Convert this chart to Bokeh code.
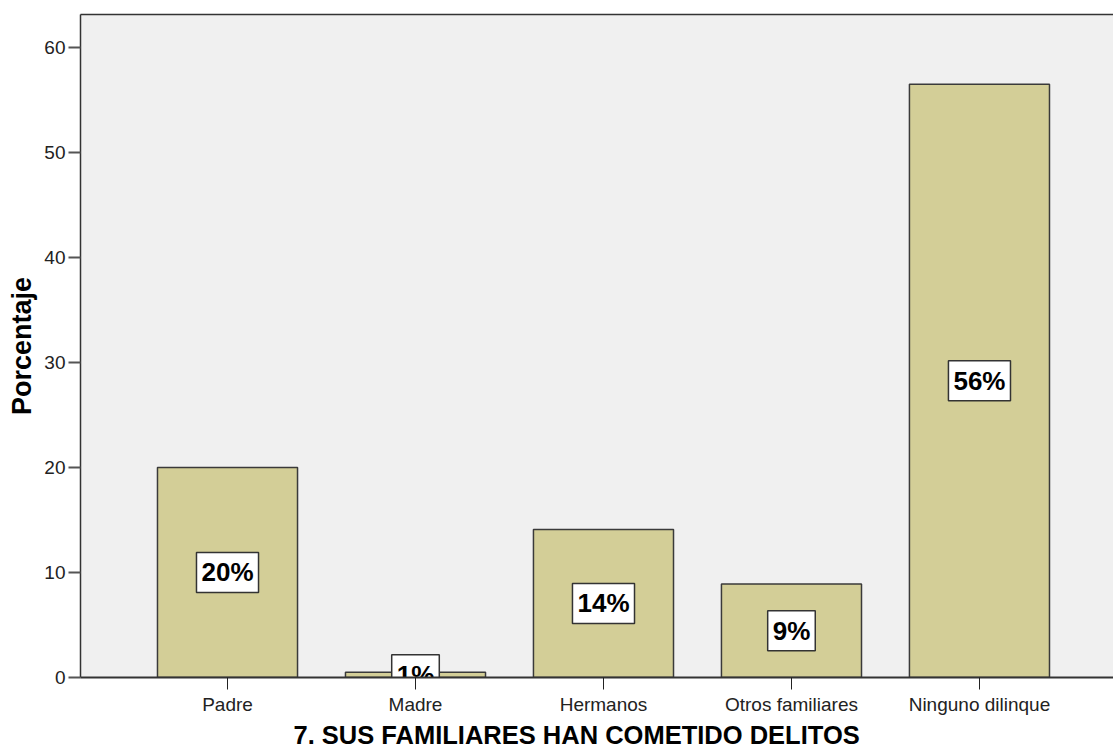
from bokeh.plotting import figure
from bokeh.models import ColumnDataSource, FixedTicker, Range1d, LinearAxis, Title
from bokeh.core.properties import value
from bokeh.embed import file_html
from bokeh.resources import INLINE

categories = ["Padre", "Madre", "Hermanos", "Otros familiares", "Ninguno dilinque"]
percentages = [20.0, 0.5, 14.1, 8.9, 56.5]
labels = ["20%", "1%", "14%", "9%", "56%"]
y_ticks = [0, 10, 20, 30, 40, 50, 60]
x_title = "7. SUS FAMILIARES HAN COMETIDO DELITOS"

xs = list(range(1, len(categories) + 1))
src = ColumnDataSource(dict(
    x=xs, top=percentages, mid=[v / 2 for v in percentages], label=labels,
))

FONT = "Liberation Sans"

p = figure(width=1113, height=751, output_backend="svg", toolbar_location=None,
           x_range=Range1d(0.218, 5.713), y_range=Range1d(0, 63.14),
           min_border_left=80, min_border_top=14, min_border_bottom=74,
           min_border_right=0)

p.background_fill_color = "#f0f0f0"
p.border_fill_color = "white"
p.outline_line_color = None
p.grid.visible = False

p.vbar(x="x", top="top", width=0.745, bottom=0, source=src,
       fill_color="#d3ce97", line_color="#3a3a3a", line_width=1.5)

p.text(x="x", y="mid", text="label", source=src,
       text_font=value(FONT), text_font_style="bold", text_font_size="26px",
       text_align="center", text_baseline="middle", text_color="black",
       background_fill_color="white", border_line_color="#333333",
       border_line_width=1.5, padding=5)

# x axis
xa = p.xaxis[0]
xa.ticker = FixedTicker(ticks=xs)
xa.major_label_overrides = {i: c for i, c in zip(xs, categories)}
xa.minor_tick_line_color = None
xa.major_tick_in = 0
xa.major_tick_out = 12
xa.major_tick_line_color = "#222222"
xa.axis_line_color = "#333333"
xa.axis_line_width = 2
xa.major_label_text_font = FONT
xa.major_label_text_font_size = "19px"
xa.major_label_text_color = "#222222"
xa.major_label_standoff = 4

# x axis title (left-aligned like the original)
t = Title(text=x_title, align="left", offset=213,
          text_font=FONT, text_font_style="bold", text_font_size="25.5px",
          text_color="black", standoff=2)
p.add_layout(t, "below")

# y axis
ya = p.yaxis[0]
ya.ticker = FixedTicker(ticks=y_ticks)
ya.minor_tick_line_color = None
ya.major_tick_in = 0
ya.major_tick_out = 12
ya.major_tick_line_width = 2
ya.major_tick_line_color = "#555555"
ya.axis_line_color = "#333333"
ya.axis_line_width = 1.5
ya.major_label_text_font = FONT
ya.major_label_text_font_size = "19px"
ya.major_label_text_color = "#222222"
ya.major_label_standoff = 3
ya.axis_label = "Porcentaje"
ya.axis_label_text_font = FONT
ya.axis_label_text_font_style = "bold"
ya.axis_label_text_font_size = "27px"
ya.axis_label_text_color = "black"
ya.axis_label_standoff = 4

# top border line
top = LinearAxis(ticker=FixedTicker(ticks=[]), axis_line_color="#333333",
                 axis_line_width=1.5, major_tick_line_color=None,
                 minor_tick_line_color=None, major_label_text_font_size="0px")
p.add_layout(top, "above")

open("out.html", "w").write(file_html(p, INLINE))
